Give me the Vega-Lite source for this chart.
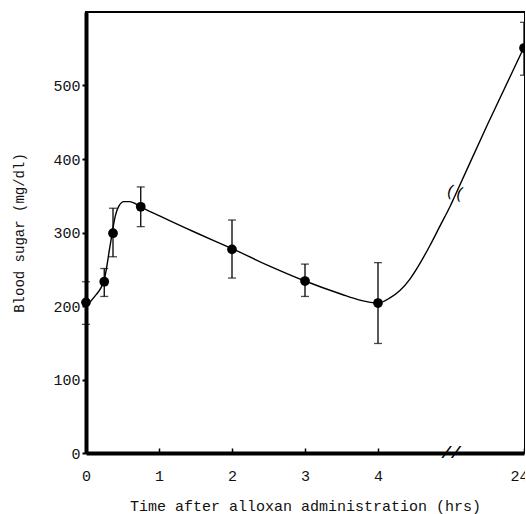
{
  "$schema": "https://vega.github.io/schema/vega-lite/v6.json",
  "autosize": {"type": "none"},
  "padding": {"left": 86, "top": 12, "right": 0, "bottom": 61},
  "width": 439,
  "height": 441,
  "background": "white",
  "config": {
    "view": {"stroke": "black", "strokeWidth": 2},
    "font": "Liberation Mono",
    "axis": {"grid": false, "labelFont": "Liberation Mono", "titleFont": "Liberation Mono", "labelColor": "#111", "titleColor": "#111", "domainColor": "black", "tickColor": "black", "titleFontWeight": "normal"}
  },
  "datasets": {
    "points": [
      {"t": 0, "v": 205, "lo": 175, "hi": 233},
      {"t": 0.25, "v": 233, "lo": 213, "hi": 251},
      {"t": 0.37, "v": 299, "lo": 267, "hi": 333},
      {"t": 0.75, "v": 335, "lo": 308, "hi": 362},
      {"t": 2, "v": 277, "lo": 238, "hi": 317},
      {"t": 3, "v": 234, "lo": 213, "hi": 257},
      {"t": 4, "v": 204, "lo": 149, "hi": 259},
      {"t": 24, "v": 551, "lo": 514, "hi": 586}
    ],
    "curve": [
      {"t": 0, "v": 200},
      {"t": 0.12, "v": 213},
      {"t": 0.25, "v": 236},
      {"t": 0.33, "v": 282},
      {"t": 0.4, "v": 322},
      {"t": 0.45, "v": 336},
      {"t": 0.52, "v": 342},
      {"t": 0.6, "v": 342},
      {"t": 0.68, "v": 339},
      {"t": 0.75, "v": 335},
      {"t": 1.0, "v": 323},
      {"t": 1.5, "v": 300},
      {"t": 2, "v": 278},
      {"t": 2.5, "v": 255},
      {"t": 3, "v": 234},
      {"t": 3.5, "v": 216},
      {"t": 3.75, "v": 208},
      {"t": 4.0, "v": 204},
      {"t": 5.64, "v": 211},
      {"t": 7.0, "v": 221},
      {"t": 8.4, "v": 237},
      {"t": 9.75, "v": 258},
      {"t": 11.1, "v": 282},
      {"t": 12.5, "v": 309},
      {"t": 13.9, "v": 336},
      {"t": 14.5, "v": 349},
      {"t": 19, "v": 447},
      {"t": 24, "v": 552}
    ],
    "axisbreak": [{"t": 14.0, "v": 0, "label": "//"}],
    "curvebreak": [{"t": 14.6, "v": 355, "label": "(("}]
  },
  "encoding": {
    "x": {
      "field": "t", "type": "quantitative",
      "scale": {"domain": [0, 4, 24], "range": [0, 292, 438], "clamp": false},
      "axis": {
        "values": [0, 1, 2, 3, 4, 24],
        "title": "Time after alloxan administration (hrs)",
        "titleFontSize": 15, "titlePadding": 15,
        "labelFontSize": 15, "labelPadding": 20,
        "labelOffset": {"condition": {"test": "datum.value == 24", "value": -5}, "value": 0},
        "tickSize": -5, "tickWidth": 1.5,
        "domainWidth": 4, "labelFlush": false
      }
    },
    "y": {
      "field": "v", "type": "quantitative",
      "scale": {"domain": [0, 600], "nice": false},
      "axis": {
        "values": [0, 100, 200, 300, 400, 500],
        "title": "Blood sugar   (mg/dl)",
        "titleFontSize": 14, "titlePadding": 26,
        "labelFontSize": 15, "labelPadding": 2,
        "tickSize": 4, "tickWidth": 2,
        "domainWidth": 4
      }
    }
  },
  "layer": [
    {
      "data": {"name": "curve"},
      "mark": {"type": "line", "interpolate": "monotone", "color": "black", "strokeWidth": 1.4}
    },
    {
      "data": {"name": "points"},
      "mark": {"type": "errorbar", "ticks": {"size": 8, "color": "black", "thickness": 1.3}, "rule": {"color": "black", "strokeWidth": 1.3}},
      "encoding": {
        "y": {"field": "lo", "type": "quantitative", "title": "Blood sugar   (mg/dl)"},
        "y2": {"field": "hi"}
      }
    },
    {
      "data": {"name": "points"},
      "mark": {"type": "circle", "color": "black", "opacity": 1, "size": 95}
    },
    {
      "mark": {"type": "rule", "color": "black", "strokeWidth": 4},
      "encoding": {"y": {"datum": 600}, "x": {"value": 0}, "x2": {"value": 439}}
    },
    {
      "data": {"name": "axisbreak"},
      "mark": {"type": "text", "fontSize": 16, "fontStyle": "italic", "fontWeight": "bold", "color": "black"},
      "encoding": {"text": {"field": "label"}}
    },
    {
      "data": {"name": "curvebreak"},
      "mark": {"type": "text", "fontSize": 16, "angle": 15, "color": "black"},
      "encoding": {"text": {"field": "label"}}
    }
  ]
}
